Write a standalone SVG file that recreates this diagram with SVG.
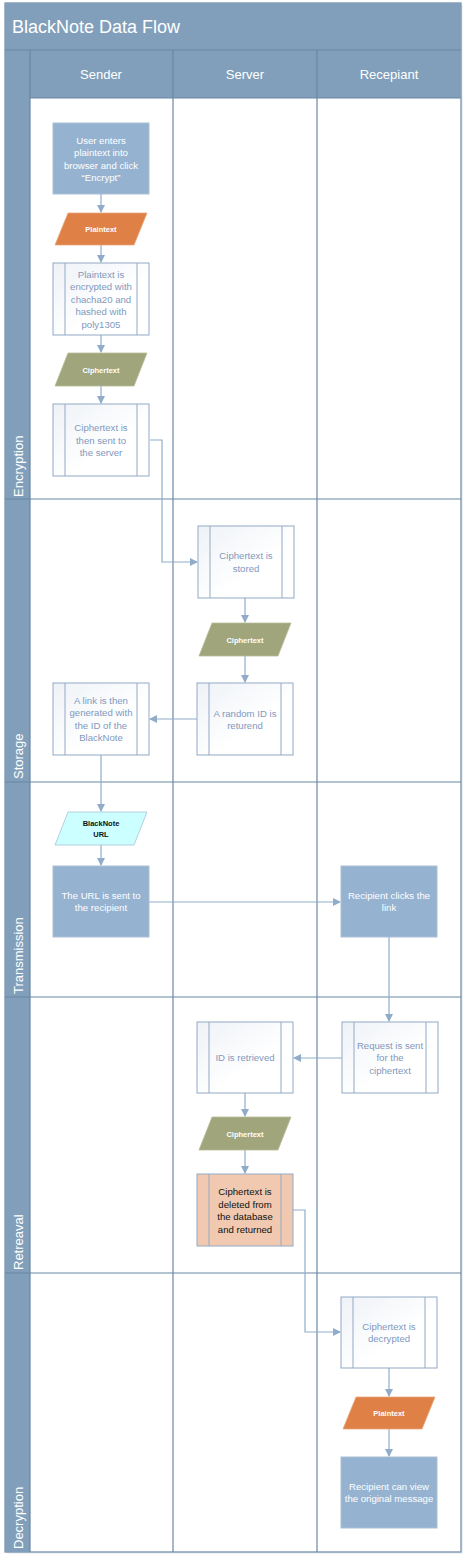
<svg xmlns="http://www.w3.org/2000/svg" width="468" height="1562" viewBox="0 0 468 1562">
<style>
.hdr{fill:#819fbb}
.lane{stroke:#6a87a3;stroke-width:1.2;fill:none}
.ttl{font-family:"Liberation Sans",Arial,sans-serif;font-size:18px;fill:#ffffff}
.col{font-family:"Liberation Sans",Arial,sans-serif;font-size:13px;fill:#ffffff;text-anchor:middle}
.ph{font-family:"Liberation Sans",Arial,sans-serif;font-size:13px;fill:#ffffff}
.proc{fill:#95b3d1;stroke:#a9bfd6;stroke-width:1}
.sub{fill:url(#sg);stroke:#93a9c5;stroke-width:1}
.subl{stroke:#93a9c5;stroke-width:1}
.del{fill:#f0c9b0;stroke:#93a9c5;stroke-width:1}
.t{font-family:"Liberation Sans",Arial,sans-serif;font-size:9.6px;text-anchor:middle}
.tw{fill:#ffffff}
.tb{fill:#8199bd}
.tk{fill:#111111}
.pt{font-family:"Liberation Sans",Arial,sans-serif;font-size:7.5px;font-weight:bold;text-anchor:middle;fill:#ffffff}
.orange{fill:#df8046;stroke:#e9a67c;stroke-width:0.8}
.olive{fill:#a0a57b;stroke:#b9bd9b;stroke-width:0.8}
.cyan{fill:#ccffff;stroke:#a9c3d6;stroke-width:0.8}
.cn{fill:none;stroke:#90acc9;stroke-width:1.2}
</style>
<defs>
<linearGradient id="sg" x1="0" y1="0" x2="1" y2="1">
<stop offset="0" stop-color="#eef2f7"/>
<stop offset="0.6" stop-color="#ffffff"/>
</linearGradient>
<marker id="ah" markerWidth="8" markerHeight="8" refX="7" refY="4" orient="auto" markerUnits="userSpaceOnUse">
<path d="M0,0 L8,4 L0,8 Z" fill="#90acc9"/>
</marker>
</defs>

<g id="frame">
<rect x="7" y="5" width="456" height="1549" fill="#e6ebf0" opacity="0.6"/>
<rect x="5" y="3" width="456" height="1549" fill="#ffffff" stroke="#6a87a3" stroke-width="1.2"/>
<rect class="hdr" x="5" y="3" width="456" height="47"/>
<text class="ttl" x="12" y="33">BlackNote Data Flow</text>
<rect class="hdr" x="5" y="50" width="456" height="48"/>
<rect class="hdr" x="5" y="98" width="25" height="1454"/>
<line class="lane" x1="5" y1="50" x2="461" y2="50"/>
<line class="lane" x1="30" y1="50" x2="30" y2="1552"/>
<line class="lane" x1="173" y1="50" x2="173" y2="1552"/>
<line class="lane" x1="317" y1="50" x2="317" y2="1552"/>
<line class="lane" x1="30" y1="98" x2="461" y2="98"/>
<line class="lane" x1="5" y1="499" x2="461" y2="499"/>
<line class="lane" x1="5" y1="782" x2="461" y2="782"/>
<line class="lane" x1="5" y1="997" x2="461" y2="997"/>
<line class="lane" x1="5" y1="1273" x2="461" y2="1273"/>
<text class="col" x="101" y="79">Sender</text>
<text class="col" x="245" y="79">Server</text>
<text class="col" x="389" y="79">Recepiant</text>
<text class="ph" transform="translate(23,497) rotate(-90)">Encryption</text>
<text class="ph" transform="translate(23,779) rotate(-90)">Storage</text>
<text class="ph" transform="translate(23,994) rotate(-90)">Transmission</text>
<text class="ph" transform="translate(23,1270) rotate(-90)">Retreaval</text>
<text class="ph" transform="translate(23,1549) rotate(-90)">Decryption</text>
</g>

<g id="connectors">
<path class="cn" d="M101,194 V212" marker-end="url(#ah)"/>
<path class="cn" d="M101,245 V262" marker-end="url(#ah)"/>
<path class="cn" d="M101,335 V352" marker-end="url(#ah)"/>
<path class="cn" d="M101,386 V403" marker-end="url(#ah)"/>
<path class="cn" d="M150,440 H162 V562 H197" marker-end="url(#ah)"/>
<path class="cn" d="M245,598 V622" marker-end="url(#ah)"/>
<path class="cn" d="M245,656 V682" marker-end="url(#ah)"/>
<path class="cn" d="M197,719 H150" marker-end="url(#ah)"/>
<path class="cn" d="M101,755 V811" marker-end="url(#ah)"/>
<path class="cn" d="M101,845 V865" marker-end="url(#ah)"/>
<path class="cn" d="M149,902 H340" marker-end="url(#ah)"/>
<path class="cn" d="M389,937 V1021" marker-end="url(#ah)"/>
<path class="cn" d="M342,1058 H294" marker-end="url(#ah)"/>
<path class="cn" d="M245,1093 V1116" marker-end="url(#ah)"/>
<path class="cn" d="M245,1150 V1173" marker-end="url(#ah)"/>
<path class="cn" d="M293,1210 H305 V1332 H340" marker-end="url(#ah)"/>
<path class="cn" d="M389,1368 V1396" marker-end="url(#ah)"/>
<path class="cn" d="M389,1429 V1456" marker-end="url(#ah)"/>
</g>

<g id="n1">
<rect class="proc" x="53" y="123" width="96" height="71"/>
<text class="t tw" x="101" y="143.5">User enters</text>
<text class="t tw" x="101" y="156">plaintext into</text>
<text class="t tw" x="101" y="168.5">browser and click</text>
<text class="t tw" x="101" y="181">“Encrypt”</text>
</g>
<g id="n2">
<polygon class="orange" points="68,213 147,213 134,245 55,245"/>
<text class="pt" x="101" y="232">Plaintext</text>
</g>
<g id="n3">
<rect class="sub" x="53" y="263" width="96" height="72"/>
<line class="subl" x1="65" y1="263" x2="65" y2="335"/>
<line class="subl" x1="137" y1="263" x2="137" y2="335"/>
<text class="t tb" x="101" y="277.5">Plaintext is</text>
<text class="t tb" x="101" y="290">encrypted with</text>
<text class="t tb" x="101" y="302.5">chacha20 and</text>
<text class="t tb" x="101" y="315">hashed with</text>
<text class="t tb" x="101" y="327.5">poly1305</text>
</g>
<g id="n4">
<polygon class="olive" points="68,353 147,353 134,386 55,386"/>
<text class="pt" x="101" y="372.5">Ciphertext</text>
</g>
<g id="n5">
<rect class="sub" x="53" y="404" width="96" height="72"/>
<line class="subl" x1="65" y1="404" x2="65" y2="476"/>
<line class="subl" x1="137" y1="404" x2="137" y2="476"/>
<text class="t tb" x="101" y="431">Ciphertext is</text>
<text class="t tb" x="101" y="443.5">then sent to</text>
<text class="t tb" x="101" y="456">the server</text>
</g>
<g id="n6">
<rect class="sub" x="198" y="526" width="96" height="72"/>
<line class="subl" x1="210" y1="526" x2="210" y2="598"/>
<line class="subl" x1="282" y1="526" x2="282" y2="598"/>
<text class="t tb" x="246" y="559">Ciphertext is</text>
<text class="t tb" x="246" y="571.5">stored</text>
</g>
<g id="n7">
<polygon class="olive" points="212,623 291,623 278,656 199,656"/>
<text class="pt" x="245" y="642.5">Ciphertext</text>
</g>
<g id="n8">
<rect class="sub" x="197" y="683" width="96" height="72"/>
<line class="subl" x1="209" y1="683" x2="209" y2="755"/>
<line class="subl" x1="281" y1="683" x2="281" y2="755"/>
<text class="t tb" x="245" y="716.5">A random ID is</text>
<text class="t tb" x="245" y="729">returend</text>
</g>
<g id="n9">
<rect class="sub" x="53" y="683" width="96" height="72"/>
<line class="subl" x1="65" y1="683" x2="65" y2="755"/>
<line class="subl" x1="137" y1="683" x2="137" y2="755"/>
<text class="t tb" x="101" y="703.5">A link is then</text>
<text class="t tb" x="101" y="716">generated with</text>
<text class="t tb" x="101" y="728.5">the ID of the</text>
<text class="t tb" x="101" y="741">BlackNote</text>
</g>
<g id="n10">
<polygon class="cyan" points="68,812 147,812 134,845 55,845"/>
<text class="pt" x="101" y="826" style="fill:#111111">BlackNote</text>
<text class="pt" x="101" y="836.5" style="fill:#111111">URL</text>
</g>
<g id="n11">
<rect class="proc" x="53" y="866" width="96" height="71"/>
<text class="t tw" x="101" y="898.5">The URL is sent to</text>
<text class="t tw" x="101" y="911">the recipient</text>
</g>
<g id="n12">
<rect class="proc" x="341" y="866" width="96" height="71"/>
<text class="t tw" x="389" y="898.5">Recipient clicks the</text>
<text class="t tw" x="389" y="911">link</text>
</g>
<g id="n13">
<rect class="sub" x="342" y="1022" width="96" height="71"/>
<line class="subl" x1="354" y1="1022" x2="354" y2="1093"/>
<line class="subl" x1="426" y1="1022" x2="426" y2="1093"/>
<text class="t tb" x="390" y="1048.5">Request is sent</text>
<text class="t tb" x="390" y="1061">for the</text>
<text class="t tb" x="390" y="1073.5">ciphertext</text>
</g>
<g id="n14">
<rect class="sub" x="197" y="1022" width="96" height="71"/>
<line class="subl" x1="209" y1="1022" x2="209" y2="1093"/>
<line class="subl" x1="281" y1="1022" x2="281" y2="1093"/>
<text class="t tb" x="245" y="1061">ID is retrieved</text>
</g>
<g id="n15">
<polygon class="olive" points="212,1117 291,1117 278,1150 199,1150"/>
<text class="pt" x="245" y="1136.5">Ciphertext</text>
</g>
<g id="n16">
<rect class="del" x="197" y="1174" width="96" height="72"/>
<line class="subl" x1="209" y1="1174" x2="209" y2="1246"/>
<line class="subl" x1="281" y1="1174" x2="281" y2="1246"/>
<text class="t tk" x="245" y="1195">Ciphertext is</text>
<text class="t tk" x="245" y="1207.5">deleted from</text>
<text class="t tk" x="245" y="1220">the database</text>
<text class="t tk" x="245" y="1232.5">and returned</text>
</g>
<g id="n17">
<rect class="sub" x="341" y="1297" width="96" height="71"/>
<line class="subl" x1="353" y1="1297" x2="353" y2="1368"/>
<line class="subl" x1="425" y1="1297" x2="425" y2="1368"/>
<text class="t tb" x="389" y="1329.5">Ciphertext is</text>
<text class="t tb" x="389" y="1342">decrypted</text>
</g>
<g id="n18">
<polygon class="orange" points="356,1397 435,1397 422,1429 343,1429"/>
<text class="pt" x="389" y="1416">Plaintext</text>
</g>
<g id="n19">
<rect class="proc" x="341" y="1457" width="96" height="71"/>
<text class="t tw" x="389" y="1489.5">Recipient can view</text>
<text class="t tw" x="389" y="1502">the original message</text>
</g>
</svg>
